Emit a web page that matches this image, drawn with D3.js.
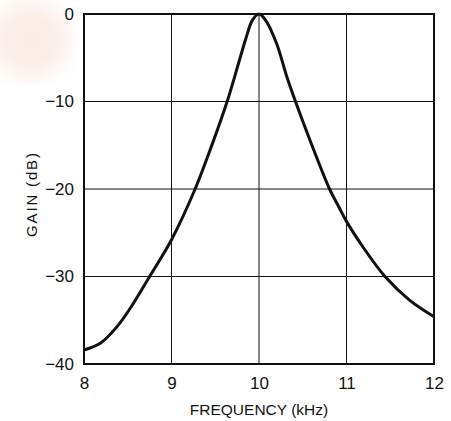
<!DOCTYPE html>
<head>
    <meta charset="utf-8">
    <script src="https://d3js.org/d3.v7.min.js"></script>
    <style>
        body { margin: 0; background: #fff; }
        text { font-family: "Liberation Sans", Arial, sans-serif; fill: #111; }
    </style>
</head>
<body>
    <svg id="chart" width="451" height="421"></svg>
    <script>
        // gain response
        var freq = [8.0, 8.19, 8.38, 8.55, 8.75, 9.0, 9.27, 9.45, 9.636, 9.777, 9.85, 9.925, 10.0, 10.075, 10.2, 10.318, 10.417, 10.597, 10.806, 10.91, 11.0, 11.2, 11.44, 11.72, 12.0];
        var gain = [-38.4, -37.6, -35.7, -33.3, -30, -25.8, -20, -15.3, -10, -5.26, -2.8, -0.7, 0, -0.7, -3.35, -7.17, -10, -14.8, -20, -22, -23.7, -26.8, -30, -32.7, -34.6];
        var xTicks = [8, 9, 10, 11, 12];
        var yTicks = [0, -10, -20, -30, -40];

        var mLeft = 84, mTop = 14, width = 350, height = 350;

        var x = d3.scaleLinear().domain([8, 12]).range([0, width]);
        var y = d3.scaleLinear().domain([-40, 0]).range([height, 0]);

        var svg = d3.select("#chart");

        // faint watermark in the corner
        var defs = svg.append("defs");
        defs.append("filter").attr("id", "blur").append("feGaussianBlur").attr("stdDeviation", 10);
        svg.append("ellipse").attr("cx", 30).attr("cy", 40).attr("rx", 40).attr("ry", 38)
            .attr("fill", "#f6d9cc").attr("opacity", 0.45).attr("filter", "url(#blur)");

        var g = svg.append("g").attr("transform", "translate(" + mLeft + "," + mTop + ")");

        // grid
        g.append("g").selectAll("line").data(xTicks.slice(1, -1)).enter().append("line")
            .attr("x1", function(d){ return x(d); }).attr("x2", function(d){ return x(d); })
            .attr("y1", 0).attr("y2", height)
            .attr("stroke", "#111").attr("stroke-width", 1);
        g.append("g").selectAll("line").data(yTicks.slice(1, -1)).enter().append("line")
            .attr("y1", function(d){ return y(d); }).attr("y2", function(d){ return y(d); })
            .attr("x1", 0).attr("x2", width)
            .attr("stroke", "#111").attr("stroke-width", 1);

        // frame
        g.append("rect").attr("width", width).attr("height", height)
            .attr("fill", "none").attr("stroke", "#111").attr("stroke-width", 2);

        // axes (labels only)
        var xAxis = g.append("g").attr("transform", "translate(0," + height + ")")
            .call(d3.axisBottom(x).tickValues(xTicks).tickSize(0).tickPadding(13).tickFormat(d3.format("d")));
        var yAxis = g.append("g")
            .call(d3.axisLeft(y).tickValues(yTicks).tickSize(0).tickPadding(10)
                .tickFormat(function(d){ return d < 0 ? "\u2212" + (-d) : d; }));
        [xAxis, yAxis].forEach(function(a){
            a.select(".domain").remove();
            a.selectAll("text").style("font-size", "17px").attr("fill", "#111")
                .style("font-family", '"Liberation Sans", Arial, sans-serif');
        });

        // curve
        var line = d3.line()
            .x(function(d, i){ return x(freq[i]); })
            .y(function(d){ return y(d); })
            .curve(d3.curveCatmullRom.alpha(0.5));
        g.append("path").datum(gain).attr("d", line)
            .attr("fill", "none").attr("stroke", "#111").attr("stroke-width", 3)
            .attr("stroke-linejoin", "round");

        // axis titles
        svg.append("text").attr("x", mLeft + width / 2).attr("y", 415)
            .attr("text-anchor", "middle").style("font-size", "15.5px").text("FREQUENCY (kHz)");
        svg.append("text").attr("transform", "translate(37,195) rotate(-90)")
            .attr("text-anchor", "middle").style("font-size", "15px")
            .attr("textLength", 84).attr("lengthAdjust", "spacing").text("GAIN (dB)");
    </script>
</body>
